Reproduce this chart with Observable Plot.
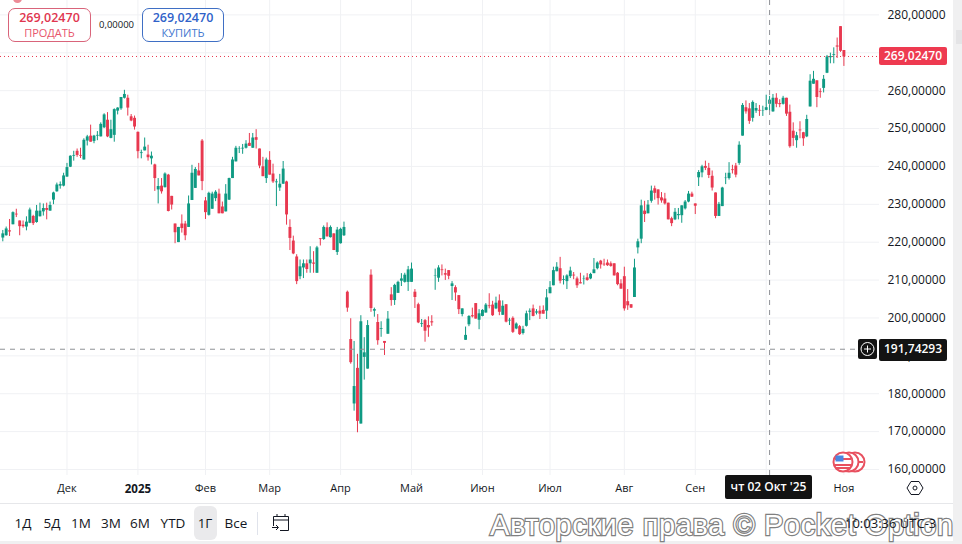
<!DOCTYPE html>
<html lang="ru"><head><meta charset="utf-8">
<script src="https://cdn.jsdelivr.net/npm/d3@7"></script>
<script src="https://cdn.jsdelivr.net/npm/@observablehq/plot@0.6"></script>
<style>
html,body{margin:0;padding:0;background:#fff;overflow:hidden}
#wrap{position:relative;width:962px;height:544px;font-family:"Open Sans",sans-serif;overflow:hidden;background:#fff}
#chart{position:absolute;left:0;top:0}
#chart svg{display:block;font-family:"Open Sans",sans-serif}
.a{position:absolute;white-space:nowrap}
.box{box-sizing:border-box;border:1px solid;border-radius:7px;background:#fff;text-align:center}
.tag{color:#fff;font-weight:600;font-size:12px;text-align:center;border-radius:2px}
.tb{font-size:13.5px;color:#131722;top:514px;transform:translateX(-50%)}
</style></head><body>
<div id="wrap">
<div id="chart"></div>
<div class="a" style="left:953px;top:0;width:9px;height:544px;background:#f0f0f1"></div>
<div class="a" style="left:956px;top:30px;width:6px;height:14px;background:#e4e4e6"></div>
<div class="a" style="left:0;top:541px;width:962px;height:3px;background:#f0f0f1"></div>
<div class="a" style="left:0;top:503px;width:953px;height:1px;background:#e6e7ea"></div>
<div class="a" style="left:13px;top:-6px;width:9px;height:9px;border-radius:50%;background:#ec8a96"></div>

<div class="a box" style="left:8px;top:8px;width:83px;height:34px;border-color:#d9647a;color:#e0364f">
  <div style="font-size:12.5px;font-weight:600;line-height:17px;margin-top:0">269,02470</div>
  <div style="font-size:11px;line-height:11px;margin-top:1px;color:#e8566c">ПРОДАТЬ</div>
</div>
<div class="a" style="left:99px;top:18px;font-size:9.5px;color:#131722">0,00000</div>
<div class="a box" style="left:142px;top:8px;width:82px;height:34px;border-color:#3f6fc4;color:#2f62c9">
  <div style="font-size:12.5px;font-weight:600;line-height:17px;margin-top:0">269,02470</div>
  <div style="font-size:11px;line-height:11px;margin-top:1px;color:#4377cf">КУПИТЬ</div>
</div>

<div class="a tag" style="left:879px;top:47px;width:68px;height:18px;line-height:18px;background:#ee3a50;">269,02470</div>
<div class="a" style="left:858px;top:339px;width:19px;height:20px;background:#131313;border-radius:2px"></div>
<svg class="a" style="left:858px;top:339px" width="19" height="20"><circle cx="9.5" cy="10" r="6.5" fill="none" stroke="#fff"/><path d="M9.5 6.5v7M6 10h7" stroke="#fff"/></svg>
<div class="a tag" style="left:879px;top:339px;width:68px;height:22px;line-height:20px;background:#131313">191,74293</div>
<div class="a tag" style="left:725px;top:475px;width:87px;height:24px;line-height:24px;background:#131313">чт 02 Окт '25</div>

<svg class="a" style="left:830px;top:450px" width="38" height="24">
  <circle cx="25" cy="12" r="9.5" fill="#fff" stroke="#e8505f" stroke-width="2"/><path d="M25 4v16M17 12h16" stroke="#e8505f" stroke-width="2"/>
  <circle cx="19" cy="12" r="9.5" fill="#fff" stroke="#e8505f" stroke-width="2"/><circle cx="13" cy="12" r="9.5" fill="#fff" stroke="#e8505f" stroke-width="2"/>
  <path d="M5 9h16M5 15h16M6 18h14" stroke="#e8505f" stroke-width="2"/><path d="M5.5 5.5h8v6h-8z" fill="#4a86e0"/>
</svg>
<svg class="a" style="left:906px;top:480px" width="18" height="16"><path d="M1 8l4-6.5h8l4 6.5-4 6.5H5z" fill="none" stroke="#131722"/><circle cx="9" cy="8" r="2" fill="none" stroke="#131722"/></svg>

<div class="a" style="left:194px;top:506px;width:23px;height:34px;background:#eaeaec;border-radius:6px"></div>
<div class="a tb" style="left:23px">1Д</div><div class="a tb" style="left:52px">5Д</div><div class="a tb" style="left:81px">1М</div>
<div class="a tb" style="left:111px">3М</div><div class="a tb" style="left:140px">6М</div><div class="a tb" style="left:173px">YTD</div>
<div class="a tb" style="left:205px">1Г</div><div class="a tb" style="left:236px">Все</div>
<div class="a" style="left:257px;top:512px;width:1px;height:23px;background:#e0e3eb"></div>
<svg class="a" style="left:271px;top:512px" width="20" height="20" fill="none" stroke="#131722"><path d="M2.5 14V4.5h15V18.5H9M2.5 8h15M6 2v3M14 2v3M1 15.5h6M5 13l2.5 2.5L5 18"/></svg>

<div class="a" style="left:490px;top:506px;font-family:'Liberation Sans',sans-serif;font-size:29px;line-height:38px;color:#fff;-webkit-text-stroke:2.4px #808080;paint-order:stroke fill;letter-spacing:.58px">Авторские права © Pocket Option</div>
<div class="a" style="left:845px;top:514px;font-size:13px;color:#131722">10:03:36 UTC-3</div>
</div>
<script>
const rising = ["GGRGRRRGGR","GGGRGGGGGG","GGRRGGRGGG","GRGGGGGRRR","RGGRGRGRGR","RRGRRGGGRR","RGGGRRGGGG","GGGRGRRRGR","RGGGRRRRGG","RGRGRGRGRG","GGRRGRGGGR","GRGRGRGGGG","GGRRGRRRGG","RRRGRRGGGR","RGGGRRGRGR","GRGRGGGRGR","RGGGGRGGGR","RRGRGGGRRR","RRRRRRRGGG","RGGRRRRRRG","GGGGRRGGRR","RRGGGGRRGG","RRGGRGGGGR","RGRRRGRRGG","GRRGGGGRRR"].join("");
const bodyHigh = [222.2,223.5,223.0,227.8,227.4,225.6,224.5,225.3,228.5,226.8,228.2,228.2,228.9,228.9,229.7,233.0,235.1,235.2,237.5,239.7,242.7,242.9,244.0,242.9,246.9,247.8,248.0,248.0,248.2,251.1,253.6,252.2,249.7,255.0,255.4,258.2,259.0,258.0,253.1,252.7,249.0,243.6,245.1,243.0,242.7,240.4,234.7,234.8,238.0,237.7,232.1,
224.8,223.9,224.8,224.8,230.1,238.2,239.2,238.8,246.7,230.9,232.9,232.7,233.2,232.7,229.3,232.7,236.8,241.7,244.8,244.7,244.8,245.9,246.1,247.5,247.6,244.6,239.9,241.7,241.6,238.0,235.9,235.3,239.3,235.9,223.9,220.3,216.1,213.5,214.3,214.3,215.3,214.5,218.5,220.9,223.9,223.8,223.9,222.2,223.2,223.4,223.9,
206.8,194.3,181.9,186.7,199.0,190.8,198.0,211.3,202.2,198.8,197.2,193.8,199.7,206.1,208.6,209.4,210.3,211.3,212.7,212.9,206.8,203.5,198.5,199.3,198.0,199.0,211.1,213.2,212.7,211.7,212.5,209.0,208.0,205.9,202.4,195.4,200.4,200.6,203.8,201.1,202.0,203.4,203.2,203.4,203.9,204.5,203.1,203.5,199.4,199.9,198.4,197.7,197.0,201.1,201.8,202.4,201.6,201.8,
202.0,205.3,208.0,212.5,213.4,213.0,210.1,211.1,212.4,211.3,210.3,209.3,210.4,210.6,211.5,212.7,214.5,215.0,214.2,214.5,214.3,214.3,211.8,209.0,210.9,204.3,203.5,213.2,220.1,229.6,228.2,229.8,233.5,234.1,233.8,231.7,231.4,230.3,226.2,227.9,227.3,229.6,230.6,232.7,232.7,230.1,
238.4,239.9,240.0,239.5,237.4,233.0,230.0,234.3,236.9,238.2,239.1,240.1,245.6,256.1,255.5,255.2,256.9,255.3,254.8,254.6,255.5,257.5,258.0,258.0,256.6,258.0,258.0,254.3,249.3,248.1,249.6,248.9,252.4,262.5,263.0,262.6,259.7,263.0,268.9,269.0,269.5,271.8,276.9,270.6];
const bodyLow = [221.1,221.7,222.7,224.6,227.2,224.1,224.1,224.0,225.0,224.9,225.2,226.7,228.0,228.4,228.2,231.1,233.3,234.8,234.8,237.2,239.8,242.7,242.9,242.7,241.7,246.7,246.4,246.6,248.0,247.8,250.2,247.8,247.4,248.2,254.6,255.2,258.0,255.4,252.0,250.4,243.9,243.4,244.1,242.3,242.0,236.8,233.8,233.3,234.4,228.1,229.8,
222.5,219.9,223.6,221.7,223.9,231.0,234.2,237.5,236.0,227.8,227.1,228.7,231.5,227.5,227.5,228.0,231.1,236.8,241.2,244.6,244.6,244.8,245.3,244.8,246.9,240.1,237.3,236.8,237.7,235.9,235.7,234.3,235.3,227.2,221.0,216.9,209.6,210.9,213.2,212.8,214.3,214.2,211.8,220.7,220.7,221.4,221.2,217.8,217.3,219.6,221.7,
202.6,188.2,177.3,172.7,172.0,189.6,186.5,202.5,201.8,194.0,197.0,193.3,195.7,204.6,204.6,206.5,209.7,209.4,209.4,209.4,205.4,198.7,198.3,196.5,197.4,198.7,211.0,210.5,212.5,211.3,211.0,208.3,206.6,202.2,200.9,194.1,198.2,200.3,199.7,199.4,200.4,201.3,203.0,200.6,202.4,201.5,200.7,198.9,199.2,196.2,197.1,195.6,195.9,197.8,201.5,200.4,201.3,201.0,
201.0,201.8,206.4,208.5,212.2,209.7,209.9,209.6,210.9,211.1,208.5,209.0,210.3,209.9,210.3,211.7,213.0,214.0,214.0,213.8,213.6,211.1,208.8,207.6,202.4,203.2,202.6,205.4,218.5,220.8,227.3,227.5,230.8,232.9,231.5,230.9,230.1,225.9,224.9,225.9,227.0,227.0,228.8,230.6,231.9,229.5,
237.0,238.3,239.5,237.6,234.3,226.8,226.8,229.4,236.8,236.8,238.9,237.7,240.8,248.0,254.4,251.9,252.7,254.6,254.6,254.5,254.8,256.4,254.4,256.4,256.3,256.4,253.8,245.2,247.4,246.8,249.4,247.3,247.8,255.7,261.7,258.2,259.5,260.6,264.6,268.7,269.3,271.5,270.4,268.9];
const high = [223.1,224.0,226.0,228.0,228.7,225.6,225.6,226.7,229.0,227.1,229.7,230.3,230.1,230.3,230.6,233.2,235.6,235.9,238.2,240.8,242.8,244.0,244.6,244.8,247.3,248.2,250.9,248.2,249.2,251.5,253.9,254.2,252.2,255.2,255.5,258.2,260.1,258.8,253.7,253.3,249.1,244.3,247.5,245.6,243.8,240.6,236.8,236.8,238.3,237.9,232.1,
224.8,223.9,227.2,225.5,232.2,240.3,239.7,240.8,247.1,231.8,233.2,233.2,233.6,234.0,230.6,235.2,236.9,242.4,245.3,245.2,245.8,246.8,248.7,248.7,249.7,244.6,242.4,242.2,243.9,240.6,236.6,237.9,241.3,236.1,225.9,221.6,216.7,215.3,215.3,215.3,218.8,217.5,218.9,220.9,224.3,225.1,224.3,222.2,223.9,223.7,225.3,
207.1,199.8,193.8,190.4,200.6,194.8,199.3,212.7,202.6,200.9,199.0,193.8,201.7,208.0,208.9,209.7,211.7,211.8,213.6,214.5,207.5,203.9,199.6,199.6,200.3,200.6,212.9,213.8,214.0,212.9,212.5,209.6,208.5,205.9,202.4,197.6,200.6,202.6,203.8,202.2,202.2,203.8,206.4,204.4,205.5,206.1,204.5,203.5,199.9,200.3,198.7,198.0,197.8,201.8,202.4,203.4,202.2,203.1,
203.2,207.5,209.6,213.4,214.6,216.0,211.1,211.4,213.4,212.0,210.8,211.8,211.1,211.7,211.8,215.7,214.8,215.2,215.5,215.3,214.8,214.3,212.0,210.1,213.4,207.5,203.5,215.5,220.8,231.1,230.8,231.0,234.8,234.8,233.8,233.1,232.9,230.3,226.6,228.9,228.9,229.6,231.0,233.4,233.2,230.1,
238.9,240.3,241.4,240.8,238.8,233.0,230.5,234.5,238.2,241.0,240.3,240.8,246.5,256.6,257.3,256.6,257.3,256.6,256.1,255.9,258.8,258.5,259.0,259.2,257.6,258.5,258.0,256.2,251.5,249.0,251.8,249.0,253.5,264.2,265.1,262.6,260.5,264.0,269.3,269.9,271.3,273.9,276.9,270.6];
const low = [220.1,221.6,221.5,224.6,226.5,221.7,223.7,223.0,224.9,224.4,225.0,226.7,226.9,225.9,228.2,229.9,233.2,234.0,234.6,237.1,239.7,241.4,242.4,242.1,241.7,245.4,246.4,246.0,246.8,247.8,250.0,247.6,247.3,246.4,253.6,254.8,257.8,253.3,251.8,249.6,242.0,242.0,244.1,241.4,240.4,233.4,230.1,232.7,234.3,228.0,228.5,
219.6,219.9,222.4,220.4,223.9,231.0,234.2,237.5,233.6,226.0,226.9,228.7,230.7,227.5,227.5,228.0,231.0,236.8,241.2,243.4,243.2,244.6,245.3,244.8,244.6,239.4,237.3,235.5,237.7,235.5,229.4,233.4,235.3,224.5,217.8,216.7,208.8,210.1,210.4,211.8,211.8,211.8,211.8,219.0,220.5,221.4,221.1,217.8,216.5,219.5,221.5,
201.5,187.8,175.4,169.7,172.0,183.6,186.5,201.5,200.2,192.8,194.9,190.1,195.7,203.1,203.3,206.5,208.3,209.2,207.0,209.4,202.5,198.5,197.5,193.6,194.9,197.8,207.3,209.4,211.1,209.9,210.1,204.6,204.4,200.9,200.3,194.1,197.7,200.0,199.7,196.9,200.3,201.3,202.4,200.4,202.2,200.6,200.7,198.7,198.0,195.9,196.9,195.4,195.5,197.6,199.3,200.3,200.8,199.6,
201.0,199.6,206.4,208.5,212.2,209.0,208.7,207.5,210.4,210.1,207.8,209.0,208.7,209.7,210.1,211.7,212.7,212.9,213.6,213.6,213.4,211.1,208.5,207.6,201.8,202.0,202.5,205.4,216.9,219.6,225.2,227.5,230.3,231.1,229.8,230.3,229.8,225.9,224.1,225.7,225.9,225.0,228.5,230.4,231.8,227.3,
234.7,237.0,238.9,236.8,233.5,226.2,226.8,229.4,235.2,236.4,238.0,237.0,240.3,248.0,253.8,251.1,251.7,254.0,253.2,253.2,254.7,254.6,254.3,255.5,255.5,256.2,253.2,244.8,245.3,244.8,247.3,245.3,247.6,255.7,261.7,255.5,258.0,259.4,264.5,267.1,267.1,268.5,270.1,266.4];
const monthTicks = [19,40,60,79,100,121,142,162,184,205,226,249];
const monthLabels = ["Дек","2025","Фев","Мар","Апр","Май","Июн","Июл","Авг","Сен","Окт","Ноя"];
const priceTicks = [280,270,260,250,240,230,220,210,200,190,180,170,160];
const lastPrice = 269.0247;
const crossPrice = 191.74293;
const crossIndex = 227;

const UP = "#0f9a83", DOWN = "#e8384f";
const candles = bodyHigh.map((t,i)=>({i, top:t, bottom:bodyLow[i], high:high[i], low:low[i], up:rising[i]==="G"}));
const fmtPrice = d => d.toFixed(5).replace(".",",");
const fmtMonth = d => monthLabels[monthTicks.indexOf(d)];

const plot = Plot.plot({
  width:962, height:544,
  marginTop:0, marginLeft:0, marginRight:83, marginBottom:69,
  style:{background:"transparent", fontSize:"12px", color:"#131722"},
  x:{type:"linear", domain:[0,249], range:[2.3,843.4]},
  y:{type:"linear", domain:[280,160], range:[14.4,469]},
  marks:[
    Plot.ruleY(priceTicks,{y:d=>d, stroke:"#f0f1f4"}),
    Plot.ruleX(monthTicks,{x:d=>d, stroke:"#f0f1f4"}),
    Plot.axisY(priceTicks,{anchor:"right", tickSize:0, tickPadding:8, tickFormat:fmtPrice, label:null, fontSize:12, fill:"#131722"}),
    Plot.axisX(monthTicks.filter(d=>d!==40),{anchor:"bottom", tickSize:0, tickPadding:9, tickFormat:fmtMonth, label:null, fontSize:11, fill:"#131722"}),
    Plot.axisX([40],{anchor:"bottom", tickSize:0, tickPadding:9, tickFormat:fmtMonth, label:null, fontSize:11.5, fontWeight:"bold", fill:"#131722"}),
    Plot.ruleX(candles,{x:"i", y1:"low", y2:"high", stroke:d=>d.up?UP:DOWN, strokeWidth:1}),
    Plot.ruleX(candles,{x:"i", y1:"bottom", y2:"top", stroke:d=>d.up?UP:DOWN, strokeWidth:2.9}),
    Plot.ruleY([lastPrice],{y:d=>d, stroke:DOWN, strokeDasharray:"1 3"}),
    Plot.ruleY([crossPrice],{y:d=>d, stroke:"#8f9196", strokeDasharray:"5 5"}),
    Plot.ruleX([crossIndex],{x:d=>d, stroke:"#8f9196", strokeDasharray:"5 5"})
  ]
});
document.getElementById("chart").appendChild(plot);
</script>
</body></html>
